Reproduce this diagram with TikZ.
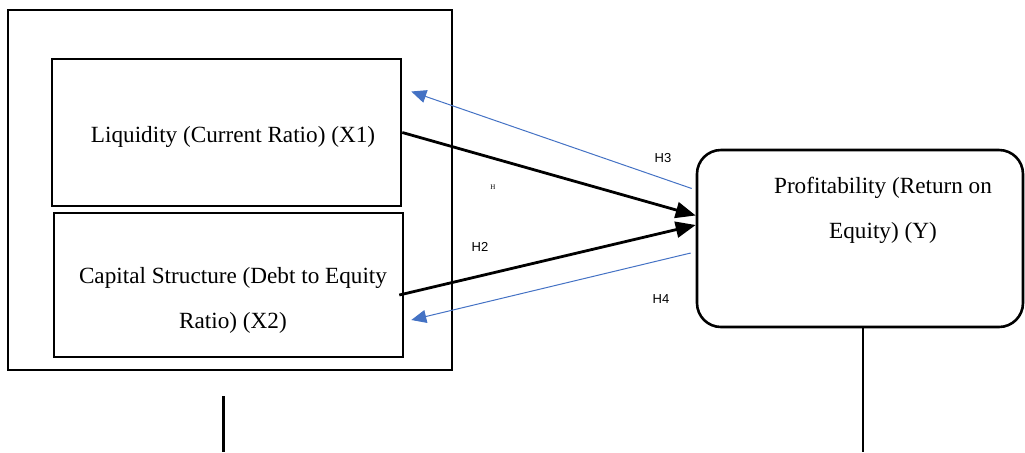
\documentclass[tikz,border=0pt]{standalone}
\usepackage{fontspec}
\setmainfont{Liberation Serif}
\newfontfamily\hsans{Liberation Sans}
\usetikzlibrary{arrows.meta}
\definecolor{hblue}{HTML}{4472C4}

\begin{document}
\begin{tikzpicture}[x=0.5pt,y=-0.5pt,
  box/.style={draw,line width=1.3pt,inner sep=0pt},
  txt/.style={align=center,font=\fontsize{11.6}{22.5}\selectfont},
  hlab/.style={font=\hsans\fontsize{6.5}{7}\selectfont},
  effect/.style={line width=1.4pt,-{Triangle[length=10pt,width=8pt]}},
  back/.style={hblue,line width=0.5pt,-{Triangle[length=7.5pt,width=6.5pt]}}]
  \useasboundingbox (0,0) rectangle (1025,452) ;

  \node[box,minimum width=222pt,minimum height=180pt] (outer) at (230,190) {} ;
  \node[box,minimum width=174.5pt,minimum height=73.5pt] (X1) at (226.5,132.5) {} ;
  \node[box,minimum width=174.5pt,minimum height=72pt] (X2) at (228.5,285) {} ;
  \node[box,rounded corners=12pt,minimum width=163pt,minimum height=88.5pt] (Y) at (860,238.5) {} ;

  \node[txt] (tX1) at (233,137) {Liquidity (Current Ratio) (X1)} ;
  \node[txt] (tX2) at (233,300) {Capital Structure (Debt to Equity\\Ratio) (X2)} ;
  \node[txt] (tY) at (883,210) {Profitability (Return on\\Equity) (Y)} ;

  \draw[effect] (X1.east) -- ([yshift=11.5pt]Y.west) ;
  \draw[effect] ([shift={(-2.5pt,-5pt)}]X2.east) -- ([yshift=6.75pt]Y.west) ;
  \draw[back] ([shift={(-2pt,25pt)}]Y.west) -- ([shift={(4.5pt,20.5pt)}]X1.east) ;
  \draw[back] ([shift={(-2.5pt,-7.25pt)}]Y.west) -- ([shift={(3.5pt,-17.5pt)}]X2.east) ;

  \node[hlab] (H3) at (663,158) {H3} ;
  \node[font=\fontsize{3.5}{4}\selectfont] (H1) at (493,187) {H} ;
  \node[hlab] (H2) at (480,247) {H2} ;
  \node[hlab] (H4) at (661,299) {H4} ;

  \coordinate (ybot) at (863,452) ;
  \draw[line width=1.2pt] (Y.south -| ybot) -- (ybot) ;
  \node[inner sep=0pt] (stub) at (223,395) {} ;
  \draw[line width=1.5pt] (stub) -- (223,452) ;
\end{tikzpicture}
\end{document}
